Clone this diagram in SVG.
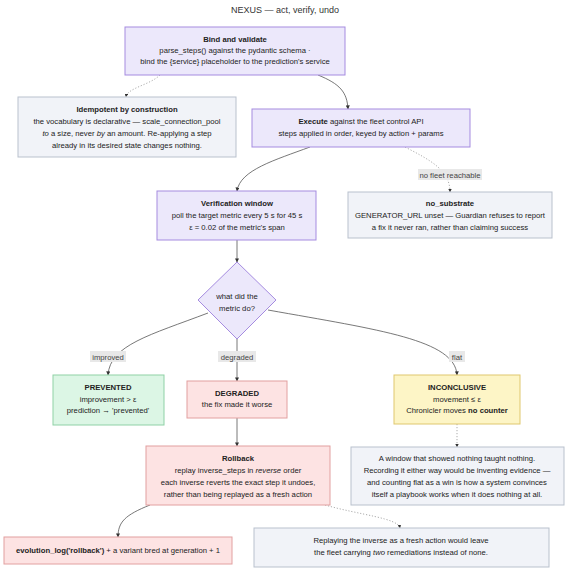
<svg xmlns="http://www.w3.org/2000/svg" width="571" height="573" viewBox="0 0 571 573">
<defs>
<marker id="arr" viewBox="0 0 10 10" refX="9" refY="5" markerWidth="5" markerHeight="5" orient="auto"><path d="M0,0 L10,5 L0,10 z" fill="#333"/></marker>
<style>
text{font-family:"Liberation Sans",Arial,sans-serif;font-size:7.7px;fill:#222;text-anchor:middle}
.t{font-size:9px;fill:#333}
.b{font-weight:bold}
.p{fill:#ece8fb;stroke:#a58be0;stroke-width:1}
.g{fill:#f1f3f8;stroke:#b9c1cd;stroke-width:1}
.gr{fill:#dcf6e5;stroke:#8fd1a6;stroke-width:1}
.r{fill:#fde3e3;stroke:#e2a0a0;stroke-width:1}
.y{fill:#fdf5c6;stroke:#dfc76e;stroke-width:1}
.e{fill:none;stroke:#555;stroke-width:0.8}
.d{fill:none;stroke:#888;stroke-width:0.7;stroke-dasharray:1.2 1.8}
.lb{fill:#e8e8e8}
.lt{fill:#444}
</style>
</defs>
<text class="t" x="285" y="13">NEXUS — act, verify, undo</text>

<g id="edges">
<path class="d" d="M160,75 C150,85 127,88 126,97" marker-end="url(#arr)"/>
<path class="e" d="M318,75 C340,84 347,92 348,109" marker-end="url(#arr)"/>
<path class="e" d="M310,147 C275,160 240,170 237,191" marker-end="url(#arr)"/>
<path class="d" d="M405,147 C430,160 450,170 450,192" marker-end="url(#arr)"/>
<path class="e" d="M237,240 L237,262" marker-end="url(#arr)"/>
<path class="e" d="M208,313 C150,335 110,345 108,375" marker-end="url(#arr)"/>
<path class="e" d="M237,338 L237,381" marker-end="url(#arr)"/>
<path class="e" d="M268,310 C380,330 455,340 457,375" marker-end="url(#arr)"/>
<path class="e" d="M237,418 L237,446" marker-end="url(#arr)"/>
<path class="d" d="M457,424 L457,447" marker-end="url(#arr)"/>
<path class="e" d="M150,505 C125,515 118,522 118,537" marker-end="url(#arr)"/>
<path class="d" d="M325,505 C360,515 398,518 400,528" marker-end="url(#arr)"/>
<rect class="lb" x="418" y="169" width="64" height="11"/>
<text class="lt" x="450" y="177.5">no fleet reachable</text>
<rect class="lb" x="90" y="351" width="36" height="11"/>
<text class="lt" x="108" y="359.5">improved</text>
<rect class="lb" x="218" y="351" width="38" height="11"/>
<text class="lt" x="237" y="359.5">degraded</text>
<rect class="lb" x="449" y="351" width="16" height="11"/>
<text class="lt" x="457" y="359.5">flat</text>
</g>

<g id="bind">
<rect class="p" x="125" y="27" width="220" height="48"/>
<text class="b" x="235" y="42">Bind and validate</text>
<text x="235" y="53">parse_steps() against the pydantic schema ·</text>
<text x="235" y="64">bind the {service} placeholder to the prediction's service</text>
</g>

<g id="idempotent">
<rect class="g" x="18" y="97" width="218" height="60"/>
<text class="b" x="127" y="112">Idempotent by construction</text>
<text x="127" y="124">the vocabulary is declarative — scale_connection_pool</text>
<text x="127" y="136"><tspan font-style="italic">to</tspan> a size, never <tspan font-style="italic">by</tspan> an amount. Re-applying a step</text>
<text x="127" y="148">already in its desired state changes nothing.</text>
</g>

<g id="execute">
<rect class="p" x="252" y="109" width="218" height="38"/>
<text x="361" y="124"><tspan class="b">Execute</tspan> against the fleet control API</text>
<text x="361" y="136">steps applied in order, keyed by action + params</text>
</g>

<g id="verify">
<rect class="p" x="157" y="191" width="159" height="49"/>
<text class="b" x="237" y="206">Verification window</text>
<text x="237" y="218">poll the target metric every 5 s for 45 s</text>
<text x="237" y="230">ε = 0.02 of the metric's span</text>
</g>

<g id="nosubstrate">
<rect class="g" x="348" y="192" width="204" height="46"/>
<text class="b" x="450" y="206">no_substrate</text>
<text x="450" y="218">GENERATOR_URL unset — Guardian refuses to report</text>
<text x="450" y="230">a fix it never ran, rather than claiming success</text>
</g>

<g id="decision">
<polygon class="p" points="237,262 276,300 237,339 198,300"/>
<text x="237" y="299" fill="#2d2357">what did the</text>
<text x="237" y="311" fill="#2d2357">metric do?</text>
</g>

<g id="prevented">
<rect class="gr" x="53" y="375" width="111" height="50"/>
<text class="b" x="108" y="390">PREVENTED</text>
<text x="108" y="402">improvement &gt; ε</text>
<text x="108" y="413">prediction → 'prevented'</text>
</g>

<g id="degraded">
<rect class="r" x="187" y="381" width="100" height="37"/>
<text class="b" x="237" y="396">DEGRADED</text>
<text x="237" y="407">the fix made it worse</text>
</g>

<g id="inconclusive">
<rect class="y" x="394" y="375" width="126" height="49"/>
<text class="b" x="457" y="390">INCONCLUSIVE</text>
<text x="457" y="402">movement ≤ ε</text>
<text x="457" y="413">Chronicler moves <tspan class="b">no counter</tspan></text>
</g>

<g id="rollback">
<rect class="r" x="146" y="446" width="184" height="59"/>
<text class="b" x="238" y="461">Rollback</text>
<text x="238" y="473">replay inverse_steps in <tspan font-style="italic">reverse</tspan> order</text>
<text x="238" y="485">each inverse reverts the exact step it undoes,</text>
<text x="238" y="497">rather than being replayed as a fresh action</text>
</g>

<g id="window">
<rect class="g" x="351" y="447" width="213" height="58"/>
<text x="457" y="461">A window that showed nothing taught nothing.</text>
<text x="457" y="473">Recording it either way would be inventing evidence —</text>
<text x="457" y="485">and counting flat as a win is how a system convinces</text>
<text x="457" y="497">itself a playbook works when it does nothing at all.</text>
</g>

<g id="evolution">
<rect class="r" x="4" y="537" width="228" height="27"/>
<text x="118" y="553"><tspan class="b">evolution_log('rollback')</tspan> + a variant bred at generation + 1</text>
</g>

<g id="replaying">
<rect class="g" x="254" y="528" width="295" height="39"/>
<text x="401" y="543">Replaying the inverse as a fresh action would leave</text>
<text x="401" y="555">the fleet carrying <tspan font-style="italic">two</tspan> remediations instead of none.</text>
</g>
</svg>
